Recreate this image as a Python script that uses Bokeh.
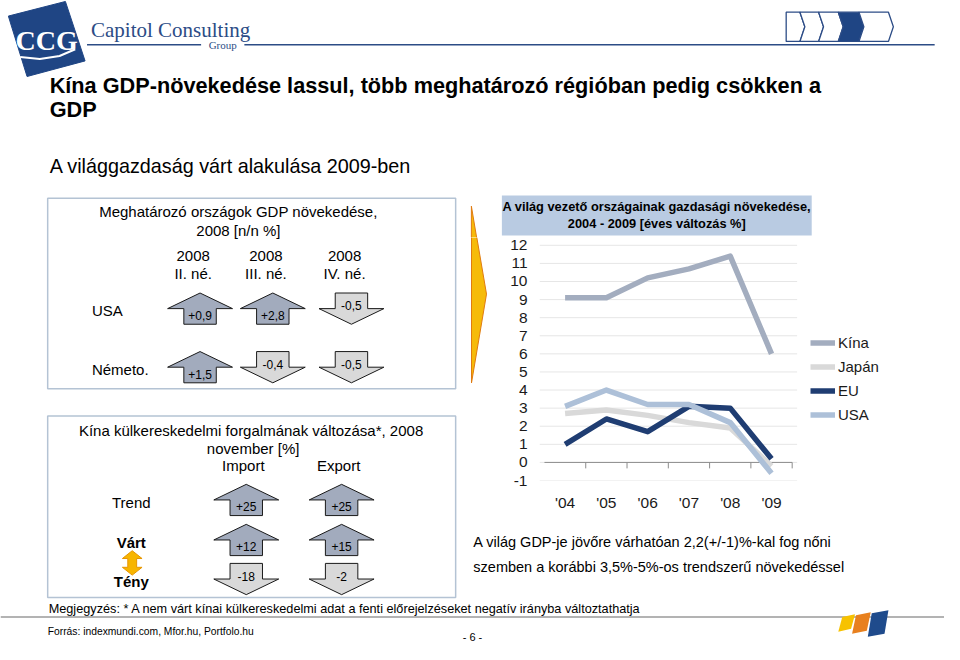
from bokeh.plotting import figure
from bokeh.models import Range1d, FixedTicker, Legend, LegendItem, GridBox
from bokeh.embed import file_html
from bokeh.resources import INLINE
from bokeh.core.properties import value

# ---------------- data ----------------
title_lines = ["Kína GDP-növekedése lassul, több meghatározó régióban pedig csökken a", "GDP"]
subtitle = "A világgazdaság várt alakulása 2009-ben"

gdp_title = ["Meghatározó országok GDP növekedése,", "2008 [n/n %]"]
gdp_period_year = ["2008", "2008", "2008"]
gdp_period_q = ["II. né.", "III. né.", "IV. né."]
gdp_countries = ["USA", "Németo."]
gdp_values = [["+0,9", "+2,8", "-0,5"],
              ["+1,5", "-0,4", "-0,5"]]

trade_title = ["Kína külkereskedelmi forgalmának  változása*, 2008", "november [%]"]
trade_cols = ["Import", "Export"]
trade_rows = ["Trend", "Várt", "Tény"]
trade_values = [["+25", "+25"],
                ["+12", "+15"],
                ["-18", "-2"]]

chart_title = ["A világ vezető országainak gazdasági növekedése,", "2004 - 2009 [éves változás %]"]
years = ["'04", "'05", "'06", "'07", "'08", "'09"]
series_names = ["Kína", "Japán", "EU", "USA"]
kina = [9.1, 9.1, 10.2, 10.7, 11.4, 6.0]
japan = [2.7, 2.9, 2.6, 2.2, 1.9, -0.2]
eu = [1.0, 2.4, 1.7, 3.1, 3.0, 0.2]
usa = [3.1, 4.0, 3.2, 3.2, 2.2, -0.6]
series_colors = ["#a3adbf", "#d9d9d9", "#1f3d72", "#adc0d8"]
y_ticks = list(range(-1, 13))

note_lines = ["A világ GDP-je jövőre várhatóan 2,2(+/-1)%-kal fog nőni",
              "szemben a korábbi 3,5%-5%-os trendszerű növekedéssel"]
footnote = "Megjegyzés: * A nem várt kínai külkereskedelmi adat a fenti előrejelzéseket negatív irányba változtathatja"
source = "Forrás: indexmundi.com, Mfor.hu, Portfolo.hu"
page_no = "- 6 -"

# ---------------- helpers ----------------
SX = 944 / 960
SY = 644 / 660
FONT = "Liberation Sans"


def PX(x):
    return round(x * SX)


def PY(y):
    return round(y * SY)


def canvas(x0, x1, y0, y1, inner_bottom=None):
    p = figure(width=PX(x1) - PX(x0), height=PY(y1) - PY(y0),
               x_range=Range1d(x0, x1),
               y_range=Range1d(inner_bottom if inner_bottom is not None else y1, y0),
               x_axis_location=None, y_axis_location=None,
               output_backend="svg", toolbar_location=None,
               min_border=0, outline_line_color=None,
               background_fill_color="white", border_fill_color="white")
    if inner_bottom is not None:
        p.min_border_bottom = PY(y1) - PY(inner_bottom)
    p.grid.visible = False
    return p


def txt(p, x, y, s, size, bold=False, align="left", color="#000000", font=FONT):
    p.text(x=[x], y=[y], text=[s], text_font=value(font),
           text_font_size=f"{size}px", text_font_style="bold" if bold else "normal",
           text_align=align, text_baseline="middle", text_color=color)


def arrow_shape(cx, top, up, hw=33, sw=16.5, hh=16, h=32):
    if up:
        xs = [cx, cx + hw, cx + sw, cx + sw, cx - sw, cx - sw, cx - hw]
        ys = [top, top + hh, top + hh, top + h, top + h, top + hh, top + hh]
    else:
        xs = [cx - sw, cx + sw, cx + sw, cx + hw, cx, cx - hw, cx - sw]
        ys = [top, top, top + hh, top + hh, top + h, top + hh, top + hh]
    return xs, ys


def draw_arrows(p, centers, tops, values):
    xs, ys, fills = [], [], []
    for r, top in enumerate(tops):
        for c, cx in enumerate(centers):
            v = values[r][c]
            up = not v.startswith("-")
            ax, ay = arrow_shape(cx, top, up)
            xs.append(ax); ys.append(ay)
            fills.append("#a2abbd" if up else "#d9d9d9")
    p.patches(xs=xs, ys=ys, fill_color=fills, line_color="#1a1a1a", line_width=1)
    for r, top in enumerate(tops):
        for c, cx in enumerate(centers):
            v = values[r][c]
            up = not v.startswith("-")
            txt(p, cx, top + (23 if up else 13), v, 12, align="center")


def connector(p):
    # large yellow arrow pointing from the left panels to the chart
    p.patch(x=[479, 494, 479], y=[211, 301, 392], fill_color="#f6bb0a",
            line_color="#e07b10", line_width=1)


# ---------------- header ----------------
hdr = canvas(0, 960, 0, 195)
hdr.patch(x=[8, 66, 86, 27], y=[16, 1, 62, 78], fill_color="#1f4584", line_color="#1f4584")
txt(hdr, 47, 41, "CCG", 28, bold=True, align="center", color="white", font="Liberation Serif")
hdr.line(x=[20, 40, 60, 76], y=[58, 60, 57, 50], line_color="white", line_width=2)
txt(hdr, 92, 30, "Capitol Consulting", 21, align="left", color="#2c4c86", font="Liberation Serif")
txt(hdr, 226, 46, "Group", 11, align="center", color="#2c4c86", font="Liberation Serif")
hdr.segment(x0=[88, 248], y0=[45.5, 45.5], x1=[204, 950], y1=[45.5, 45.5], line_color="#2c4c86", line_width=1.5)
chev_l = [799, 813, 832, 852, 873]
chev_r = [813, 832, 852, 873, 903]
cxs, cys, cfill = [], [], []
for i, (l, r) in enumerate(zip(chev_l, chev_r)):
    d = 5
    xs = [l, r, r + d, r, l] + ([l + d] if i > 0 else [])
    ys = [12, 12, 27, 42, 42] + ([27] if i > 0 else [])
    cxs.append(xs); cys.append(ys)
    cfill.append("#1f4584" if i == 3 else "white")
hdr.patches(xs=cxs, ys=cys, fill_color=cfill, line_color="#2c4c86", line_width=1.3)
txt(hdr, 50, 87, title_lines[0], 21.7, bold=True)
txt(hdr, 50, 112, title_lines[1], 21.7, bold=True)
txt(hdr, 50, 170, subtitle, 19.8)

# ---------------- left panels ----------------
lf = canvas(0, 472, 195, 615)
lf.quad(left=[48, 48], right=[463, 463], top=[203, 426], bottom=[398, 612],
        fill_color=None, line_color="#b4c3d4", line_width=1.5)
txt(lf, 242, 216, gdp_title[0], 15, align="center")
txt(lf, 242, 236, gdp_title[1], 15, align="center")
gdp_centers = [203, 277, 357]
for i, cx in enumerate(gdp_centers):
    txt(lf, cx - 7, 262, gdp_period_year[i], 15, align="center")
    txt(lf, cx - 7, 280, gdp_period_q[i], 15, align="center")
gdp_tops = [300, 360]
for i, name in enumerate(gdp_countries):
    txt(lf, 93, gdp_tops[i] + 18, name, 15)
draw_arrows(lf, gdp_centers, gdp_tops, gdp_values)

txt(lf, 257, 441, trade_title[0], 15, align="center")
txt(lf, 257, 459, trade_title[1], 15, align="center")
trade_centers = [250, 347]
for i, cx in enumerate(trade_centers):
    txt(lf, cx - 3, 477, trade_cols[i], 15, align="center")
trade_tops = [496, 537, 577]
for i, name in enumerate(trade_rows):
    txt(lf, 133, trade_tops[i] + 19, name, 15, bold=(i > 0), align="center")
draw_arrows(lf, trade_centers, trade_tops, trade_values)
ox, o0, o1 = 134, 564, 589
lf.patch(x=[ox, ox + 10, ox + 4.5, ox + 4.5, ox + 10, ox, ox - 10, ox - 4.5, ox - 4.5, ox - 10],
         y=[o0, o0 + 8, o0 + 8, o1 - 8, o1 - 8, o1, o1 - 8, o1 - 8, o0 + 8, o0 + 8],
         fill_color="#f7b500", line_color="#e69500", line_width=1)

# ---------------- chart title band (+ top of the connector arrow) ----------------
bf = canvas(472, 960, 195, 243)
connector(bf)
bf.quad(left=[510], right=[825], top=[200], bottom=[241], fill_color="#b9cbe2", line_color=None)
txt(bf, 667.5, 211, chart_title[0], 12.8, bold=True, align="center")
txt(bf, 667.5, 229, chart_title[1], 12.8, bold=True, align="center")

# ---------------- rest of the connector arrow ----------------
af = canvas(472, 500, 243, 540, inner_bottom=492)
connector(af)

# ---------------- line chart ----------------
PXU = 42.0                       # reference px per category
PYU = (492 - 251) / 13.0         # reference px per percent
x_left = -0.62                   # value at reference x = 548
x_right = x_left + (960 - 548) / PXU
y_top = 12 + (251 - 243) / PYU

cp = figure(width=PX(960) - PX(500), height=PY(540) - PY(243),
            x_range=Range1d(x_left, x_right), y_range=Range1d(-1, y_top),
            output_backend="svg", toolbar_location=None,
            min_border_left=PX(548) - PX(500), min_border_right=0,
            min_border_top=0, min_border_bottom=PY(540) - PY(492),
            outline_line_color=None, background_fill_color="white", border_fill_color="white")
cp.grid.visible = False
cp.yaxis.ticker = FixedTicker(ticks=y_ticks)
cp.yaxis.major_label_overrides = {t: str(t) for t in y_ticks}
cp.xaxis.ticker = FixedTicker(ticks=list(range(len(years))))
cp.xaxis.major_label_overrides = {i: y for i, y in enumerate(years)}
for ax in (cp.xaxis, cp.yaxis):
    ax.axis_line_color = None
    ax.major_tick_line_color = None
    ax.minor_tick_line_color = None
    ax.major_label_text_font = FONT
    ax.major_label_text_font_size = "15.5px"
    ax.major_label_text_color = "#1a1a1a"
cp.yaxis.major_label_standoff = 6
cp.xaxis.major_label_standoff = 7
n = len(years)
grid_end = n - 0.38
cp.segment(x0=[x_left] * len(y_ticks), y0=y_ticks, x1=[grid_end] * len(y_ticks), y1=y_ticks,
           line_color="#e6e6e6", line_width=1)
cp.segment(x0=[-0.5], y0=[0], x1=[n - 0.5], y1=[0], line_color="#8c8c8c", line_width=1)
bx = [i + 0.5 for i in range(n)]
cp.segment(x0=bx, y0=[0] * n, x1=bx, y1=[-0.33] * n, line_color="#8c8c8c", line_width=1)

xs = list(range(n))
renderers = []
for vals, col in zip([kina, japan, eu, usa], series_colors):
    r = cp.line(x=xs, y=vals, line_color=col, line_width=5.5, line_join="round")
    renderers.append(r)
legend = Legend(items=[LegendItem(label=nm, renderers=[r]) for nm, r in zip(series_names, renderers)],
                location=(PX(824) - PX(548), PY(492) - PY(434)),
                glyph_width=25, glyph_height=17, label_height=17, spacing=7,
                label_standoff=3, padding=0, margin=0, border_line_color=None,
                background_fill_alpha=0, label_text_font=FONT, label_text_font_size="15px",
                label_text_color="#1a1a1a")
cp.add_layout(legend)

# ---------------- note under chart ----------------
tf = canvas(472, 960, 540, 615)
txt(tf, 481, 555, note_lines[0], 14.5)
txt(tf, 481, 581, note_lines[1], 14.5)

# ---------------- footer ----------------
ft = canvas(0, 960, 615, 660)
txt(ft, 49, 624, footnote, 12.7)
ft.segment(x0=[0], y0=[632], x1=[960], y1=[632], line_color="#9a9a9a", line_width=1.5)
txt(ft, 48, 647, source, 10.3)
txt(ft, 480, 652, page_no, 11, align="center")
par_x = [852, 866, 882]
par_w = [13, 15, 17]
par_t = [629, 627, 625]
par_b = [647, 649, 652]
pxs, pys = [], []
for x0, w, t, b in zip(par_x, par_w, par_t, par_b):
    pxs.append([x0 + 4, x0 + w + 4, x0 + w, x0])
    pys.append([t + 3, t, b - 3, b])
ft.patches(xs=pxs, ys=pys, fill_color=["#f7c200", "#e8801e", "#1f4b8c"], line_color=None)

# ---------------- layout ----------------
page = GridBox(children=[
    (hdr, 0, 0, 1, 3),
    (lf, 1, 0, 3, 1),
    (bf, 1, 1, 1, 2),
    (af, 2, 1, 1, 1),
    (cp, 2, 2, 1, 1),
    (tf, 3, 1, 1, 2),
    (ft, 4, 0, 1, 3),
], spacing=0)

open("out.html", "w").write(file_html(page, INLINE, "chart"))
